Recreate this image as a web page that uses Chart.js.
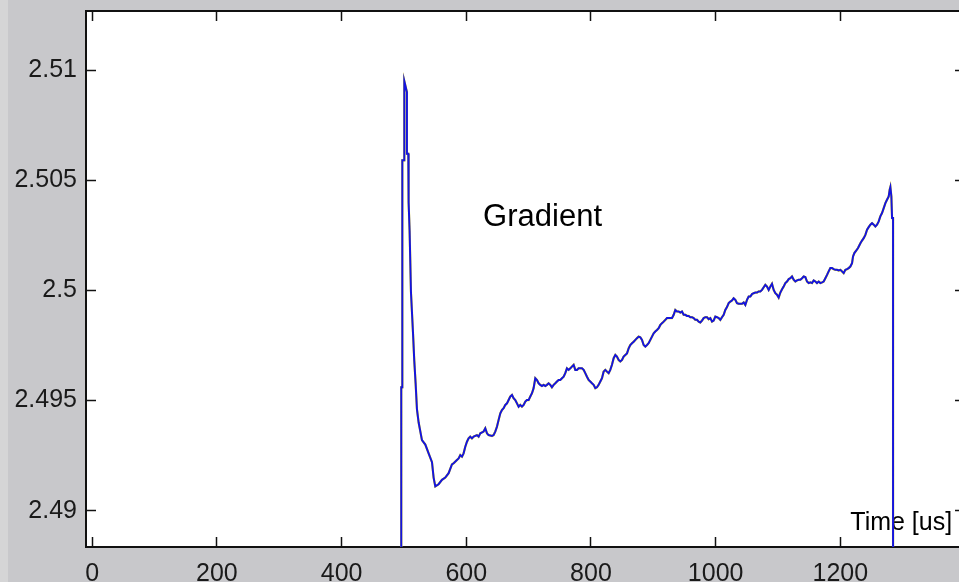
<!DOCTYPE html>
<html>
<head>
<meta charset="UTF-8">
<title>Gradient</title>
<script src="https://cdn.jsdelivr.net/npm/chart.js"></script>
<style>
    html, body { margin: 0; padding: 0; overflow: hidden; }
    body { width: 959px; height: 582px; background: linear-gradient(to right, #d5d5d6 8px, #c8c8cb 8px); }
    .chart-box { position: relative; width: 966px; height: 582px; }
</style>
</head>
<body>
<div class="chart-box"><canvas id="gradientChart"></canvas></div>
<script>
// tick labels
const xTicks = [0, 200, 400, 600, 800, 1000, 1200];
const yTicks = [2.49, 2.495, 2.5, 2.505, 2.51];

// time axis [us]
const timeUs = [
    495.7, 495.7, 497.4, 497.4, 500.6, 500.6, 504.8, 504.8, 507.0, 507.5,
    509.1, 511.3, 514.5, 516.6, 518.7, 520.9, 523.6, 528.9, 534.3, 539.6,
    545.0, 547.6, 550.3, 555.6, 561.0, 566.3, 571.7, 577.0,
    579.7, 585.0, 587.7, 590.4, 593.1, 595.7, 598.4, 601.1, 603.7, 606.4,
    609.1, 611.8, 617.1, 619.8, 622.5, 627.8, 630.5, 633.2, 635.8, 641.2,
    643.8, 646.5, 649.2, 651.9, 654.6, 657.2, 659.9, 662.6, 665.3, 667.9,
    670.6, 673.3, 675.9, 678.6, 681.3, 684.0, 686.6, 689.3, 692.0, 694.7,
    697.3, 700.0, 702.7, 705.4, 708.0, 710.7, 713.4, 716.1, 718.7, 721.4,
    724.1, 726.8, 729.4, 732.1, 734.8, 737.4, 740.1, 742.8, 745.5, 748.1,
    750.8, 753.5, 756.2, 758.8, 761.5, 764.2, 766.9, 769.5, 772.2, 774.9,
    777.6, 780.2, 782.9, 785.6, 788.3, 790.9, 793.6, 796.3, 798.9, 801.6,
    804.3, 807.0, 809.6, 812.3, 815.0, 817.7, 820.3, 823.0, 825.7, 828.4,
    831.0, 833.7, 836.4, 839.1, 841.7, 844.4,
    847.1, 849.8, 852.4, 857.8, 860.5, 863.1, 865.8, 868.5, 871.2, 873.8,
    876.5, 879.2, 881.9, 884.5, 887.2, 889.9, 892.5, 895.2, 897.9, 900.6,
    903.2, 905.9, 908.6, 911.3, 913.9, 916.6, 919.3, 922.0, 924.6, 930.0,
    932.7, 935.3, 938.0, 940.7, 943.4, 946.0, 948.7, 951.4, 954.0, 956.7,
    959.4, 962.1, 964.7, 967.4, 970.1, 972.8, 975.4, 978.1, 980.8, 983.5,
    986.1, 988.8, 991.5, 994.2, 996.8, 999.5, 1002.2, 1004.9, 1007.5, 1010.2,
    1012.9, 1015.5, 1018.2, 1020.9, 1023.6, 1026.2, 1028.9, 1031.6, 1034.3, 1036.9,
    1039.6, 1042.3, 1045.0, 1047.6, 1050.3, 1053.0, 1055.7, 1058.3, 1061.0, 1063.7,
    1066.4, 1069.0, 1071.7, 1074.4, 1077.1, 1079.7, 1082.4, 1085.1, 1087.7, 1090.4,
    1093.1, 1095.8, 1098.4, 1101.1, 1103.8, 1106.5, 1109.1, 1111.8, 1114.5, 1117.2,
    1119.8, 1122.5, 1125.2, 1127.9, 1130.5, 1133.2,
    1135.9, 1138.6, 1141.2, 1143.9, 1146.6, 1149.3, 1151.9, 1154.6, 1157.3, 1160.0,
    1162.6, 1165.3, 1168.0, 1170.7, 1173.3, 1176.0, 1178.7, 1181.3, 1184.0, 1186.7,
    1189.4, 1192.0, 1194.7, 1197.4, 1200.1, 1202.7, 1205.4, 1208.1, 1210.8, 1213.4,
    1216.1, 1218.8, 1220.4, 1222.5, 1225.7, 1228.4, 1232.2, 1234.8, 1237.5, 1240.2,
    1242.9, 1245.5, 1248.2, 1250.9, 1253.6, 1256.2, 1258.9, 1261.6, 1264.2, 1266.9,
    1269.6, 1272.3, 1274.9, 1277.6, 1279.2, 1280.3, 1281.9, 1283.0, 1284.6, 1284.6
];

// gradient values
const gradient = [
    2.4700, 2.4956, 2.4956, 2.5059, 2.5059, 2.5095, 2.5090, 2.5062, 2.5062, 2.5040,
    2.5027, 2.4999, 2.4981, 2.4968, 2.4958, 2.4946, 2.4940, 2.4932, 2.4930, 2.4926,
    2.4922, 2.4915, 2.4911, 2.4912, 2.4914, 2.4915, 2.4917, 2.4921,
    2.49215, 2.49230, 2.49237, 2.49252, 2.49245, 2.49260, 2.49290, 2.49313, 2.49328, 2.49336,
    2.49328, 2.49336, 2.49343, 2.49336, 2.49351, 2.49359, 2.49374, 2.49351, 2.49343, 2.49339,
    2.49343, 2.49359, 2.49381, 2.49412, 2.49442, 2.49457, 2.49465, 2.49480, 2.49487, 2.49502,
    2.49518, 2.49525, 2.49510, 2.49502, 2.49487, 2.49472, 2.49480, 2.49472, 2.49480, 2.49495,
    2.49502, 2.49502, 2.49518, 2.49533, 2.49556, 2.49601, 2.49593, 2.49578, 2.49571, 2.49566,
    2.49571, 2.49566, 2.49571, 2.49578, 2.49571, 2.49560, 2.49571, 2.49578, 2.49586, 2.49593,
    2.49593, 2.49601, 2.49608, 2.49624, 2.49646, 2.49639, 2.49646, 2.49654, 2.49662, 2.49639,
    2.49639, 2.49646, 2.49646, 2.49646, 2.49639, 2.49624, 2.49608, 2.49593, 2.49586, 2.49578,
    2.49571, 2.49556, 2.49560, 2.49571, 2.49586, 2.49601, 2.49631, 2.49639, 2.49631, 2.49624,
    2.49639, 2.49662, 2.49692, 2.49707, 2.49699, 2.49684,
    2.49677, 2.49684, 2.49699, 2.49714, 2.49737, 2.49752, 2.49760, 2.49767, 2.49775, 2.49783,
    2.49790, 2.49787, 2.49775, 2.49752, 2.49745, 2.49752, 2.49760, 2.49775, 2.49790, 2.49805,
    2.49813, 2.49820, 2.49828, 2.49843, 2.49851, 2.49858, 2.49866, 2.49874, 2.49874, 2.49874,
    2.49889, 2.49911, 2.49904, 2.49904, 2.49899, 2.49904, 2.49889, 2.49889, 2.49884, 2.49884,
    2.49878, 2.49878, 2.49874, 2.49866, 2.49866, 2.49858, 2.49854, 2.49863, 2.49874, 2.49878,
    2.49878, 2.49869, 2.49874, 2.49858, 2.49863, 2.49881, 2.49878, 2.49874, 2.49866, 2.49878,
    2.49889, 2.49911, 2.49924, 2.49942, 2.49949, 2.49954, 2.49964, 2.49957, 2.49942, 2.49939,
    2.49939, 2.49939, 2.49945, 2.49934, 2.49957, 2.49972, 2.49972, 2.49983, 2.49987, 2.49990,
    2.49990, 2.49995, 2.49995, 2.50002, 2.50014, 2.50025, 2.50017, 2.50002, 2.50017, 2.50030,
    2.50002, 2.49987, 2.49980, 2.49967, 2.49990, 2.50005, 2.50017, 2.50033, 2.50040, 2.50051,
    2.50055, 2.50063, 2.50048, 2.50040, 2.50045, 2.50048,
    2.50048, 2.50055, 2.50063, 2.50060, 2.50040, 2.50033, 2.50036, 2.50033, 2.50045, 2.50040,
    2.50033, 2.50040, 2.50033, 2.50036, 2.50040, 2.50055, 2.50070, 2.50086, 2.50101, 2.50101,
    2.50096, 2.50093, 2.50093, 2.50090, 2.50093, 2.50086, 2.50078, 2.50093, 2.50096, 2.50101,
    2.50108, 2.50123, 2.50154, 2.50169, 2.50181, 2.50192, 2.50214, 2.50226, 2.50237, 2.50252,
    2.50275, 2.50287, 2.50298, 2.50305, 2.50298, 2.50290, 2.50298, 2.50313, 2.50336, 2.50351,
    2.50373, 2.50396, 2.50411, 2.50426, 2.50457, 2.50469, 2.50426, 2.50328, 2.50328, 2.4700
];

const points = timeUs.map((t, i) => ({ x: t, y: gradient[i] }));

const tickFont = { family: '"Liberation Sans", Arial, sans-serif', size: 25 };
const black = '#111';

function fixTicks(values) {
    return function (scale) {
        scale.ticks = values.map(v => ({ value: v }));
    };
}

// fixed axis size, no extra label padding
function fixSize(prop, size) {
    return function (scale) {
        scale[prop] = size;
        scale.paddingTop = 0;
        scale.paddingBottom = 0;
        scale.paddingLeft = 0;
        scale.paddingRight = 0;
    };
}

// axis box with inward ticks on all four sides
const axisGrid = { drawOnChartArea: false, tickLength: -10, tickColor: black, tickWidth: 1.5 };
const axisBorder = { color: black, width: 2 };

// white plot area
const plotBackground = {
    id: 'plotBackground',
    beforeDraw(chart) {
        const a = chart.chartArea;
        chart.ctx.save();
        chart.ctx.fillStyle = '#ffffff';
        chart.ctx.fillRect(a.left, a.top, a.right - a.left, a.bottom - a.top);
        chart.ctx.restore();
    }
};

// text labels inside the axes
const textLabels = {
    id: 'textLabels',
    beforeDatasetsDraw(chart) {
        const ctx = chart.ctx;
        const xs = chart.scales.x, ys = chart.scales.y;
        ctx.save();
        ctx.fillStyle = '#000';
        ctx.textBaseline = 'alphabetic';
        ctx.textAlign = 'left';
        ctx.font = '31px "Liberation Sans", Arial, sans-serif';
        ctx.fillText('Gradient', xs.getPixelForValue(627), ys.getPixelForValue(2.50293));
        ctx.font = '25px "Liberation Sans", Arial, sans-serif';
        ctx.fillText('Time [us]', xs.getPixelForValue(1216), ys.getPixelForValue(2.48912));
        ctx.restore();
    }
};

new Chart(document.getElementById('gradientChart'), {
    type: 'line',
    data: {
        datasets: [
            {
                label: 'Gradient',
                data: points,
                borderColor: '#1414e0',
                borderWidth: 2,
                pointRadius: 0,
                tension: 0,
                order: 0
            },
            {
                label: 'Gradient (ref)',
                data: points,
                borderColor: '#f2e200',
                borderWidth: 2.2,
                pointRadius: 0,
                tension: 0,
                order: 1
            }
        ]
    },
    plugins: [plotBackground, textLabels],
    options: {
        responsive: true,
        maintainAspectRatio: false,
        animation: false,
        events: [],
        layout: { padding: { top: 11, right: 1, left: 0, bottom: 0 } },
        plugins: { legend: { display: false }, tooltip: { enabled: false } },
        scales: {
            x: {
                type: 'linear',
                position: 'bottom',
                min: -10,
                max: 1400,
                afterBuildTicks: fixTicks(xTicks),
                afterFit: fixSize('height', 35),
                grid: axisGrid,
                border: axisBorder,
                ticks: {
                    font: tickFont,
                    color: '#1a1a1a',
                    padding: 22,
                    maxRotation: 0,
                    callback: v => String(v)
                }
            },
            xTop: {
                type: 'linear',
                position: 'top',
                min: -10,
                max: 1400,
                afterBuildTicks: fixTicks(xTicks),
                afterFit: fixSize('height', 0),
                grid: axisGrid,
                border: axisBorder,
                ticks: { display: false }
            },
            y: {
                type: 'linear',
                position: 'left',
                min: 2.48835,
                max: 2.51268,
                afterBuildTicks: fixTicks(yTicks),
                afterFit: fixSize('width', 86),
                grid: axisGrid,
                border: axisBorder,
                ticks: {
                    font: tickFont,
                    color: '#1a1a1a',
                    padding: 19,
                    callback: v => String(+v.toFixed(4))
                }
            },
            yRight: {
                type: 'linear',
                position: 'right',
                min: 2.48835,
                max: 2.51268,
                afterBuildTicks: fixTicks(yTicks),
                afterFit: fixSize('width', 0),
                grid: axisGrid,
                border: axisBorder,
                ticks: { display: false }
            }
        }
    }
});
</script>
</body>
</html>
